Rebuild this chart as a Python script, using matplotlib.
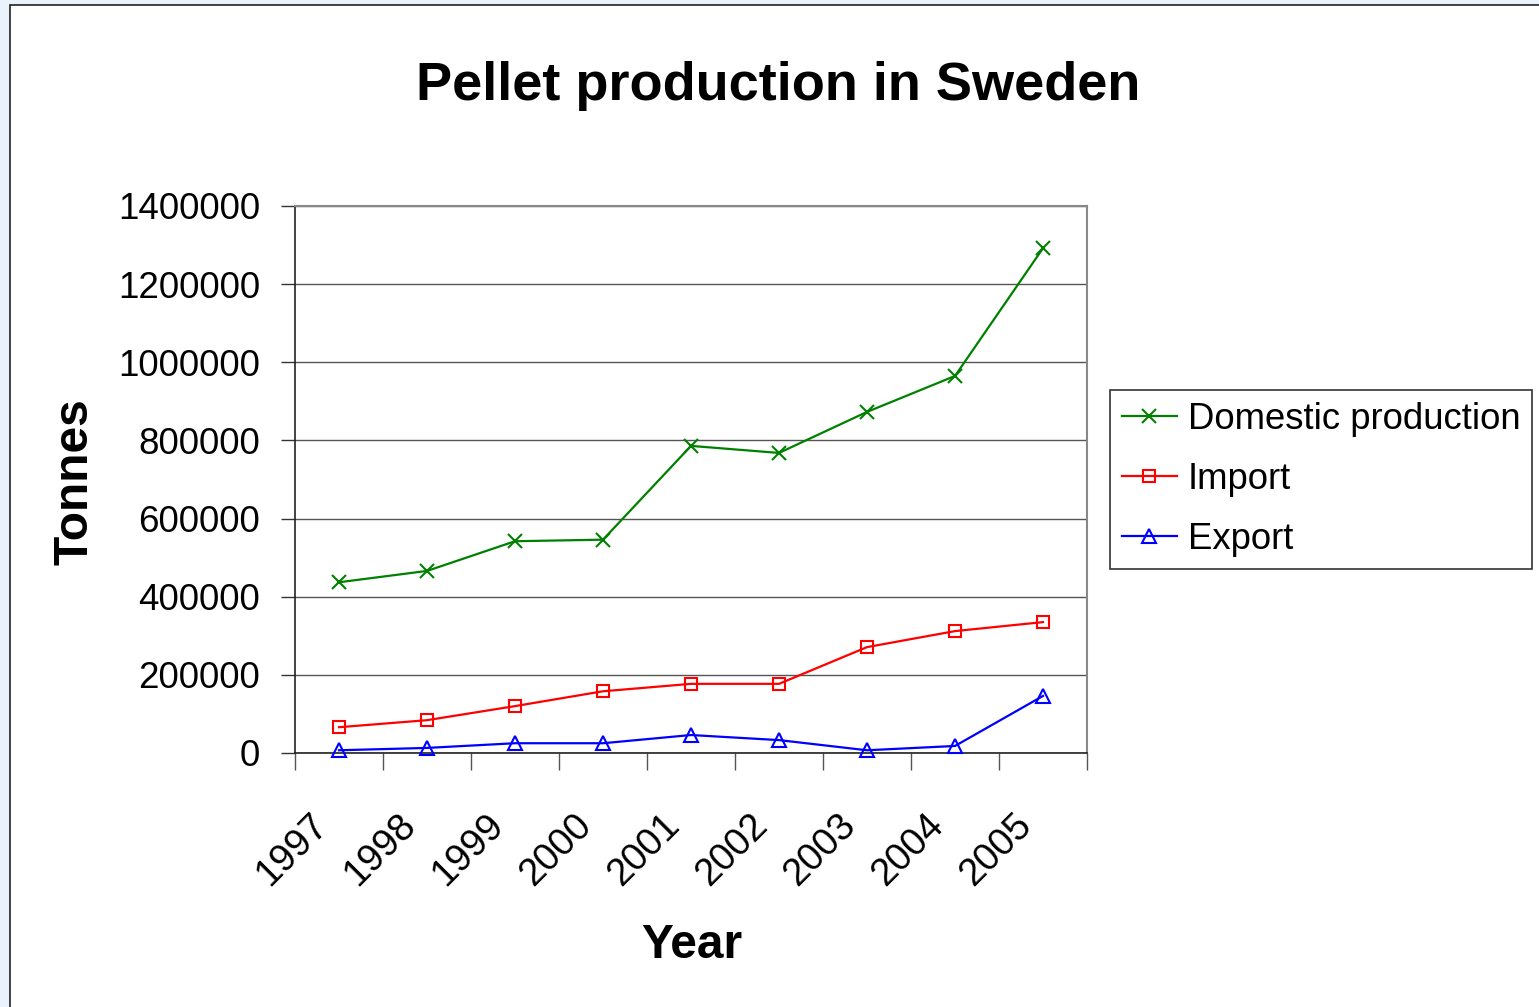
import matplotlib.pyplot as plt
from matplotlib.patches import Rectangle
from matplotlib.ticker import FixedLocator, FuncFormatter
import matplotlib.transforms as mtransforms

plt.rcParams['font.family'] = ['Liberation Sans', 'DejaVu Sans']

years = ["1997", "1998", "1999", "2000", "2001", "2002", "2003", "2004", "2005"]
domestic = [437000, 466000, 542000, 546000, 786000, 768000, 873000, 965000, 1292000]
imports = [66000, 84000, 120000, 158000, 177000, 177000, 271000, 312000, 335000]
exports = [7000, 13000, 25000, 25000, 46000, 33000, 7000, 18000, 146000]
y_ticks = [0, 200000, 400000, 600000, 800000, 1000000, 1200000, 1400000]

W, H = 1539, 1007
fig = plt.figure(figsize=(W / 100, H / 100), dpi=100)
fig.patch.set_facecolor('#eaf3fc')

# white chart area with dark border
fig.patches.append(Rectangle((10 / W, -0.1), 1.1, 1.1 - 5 / H,
                             transform=fig.transFigure, facecolor='white',
                             edgecolor='#222222', linewidth=1.2, zorder=-1))

ax = fig.add_axes([295 / W, 1 - 753 / H, (1087 - 295) / W, (753 - 206) / H])
ax.set_zorder(1)
ax.set_facecolor('white')

x = list(range(len(years)))
ax.plot(x, domestic, color='#008000', lw=1.6, marker='x', ms=10, mew=1.5,
        label='Domestic production', clip_on=False, zorder=3)
ax.plot(x, imports, color='#ff0000', lw=1.6, marker='s', ms=9, mew=1.5,
        mfc='none', label='Import', clip_on=False, zorder=3)
ax.plot(x, exports, color='#0000ff', lw=1.6, marker='^', ms=10, mew=1.5,
        mfc='none', label='Export', clip_on=False, zorder=3)

ax.set_xlim(-0.5, len(years) - 0.5)
ax.set_ylim(0, 1400000)

ax.yaxis.set_major_locator(FixedLocator(y_ticks))
ax.yaxis.set_major_formatter(FuncFormatter(lambda v, p: "%d" % v))
ax.tick_params(axis='y', direction='out', length=10, width=1, labelsize=26.5,
               pad=15, color='#333333')
ax.grid(axis='y', color='#555555', lw=1)
ax.set_axisbelow(True)

ax.set_xticks(x)
ax.set_xticklabels(years, rotation=45, ha='right', va='center',
                   rotation_mode='anchor', fontsize=27.5)
ax.set_xticks([i - 0.5 for i in range(len(years) + 1)], minor=True)
ax.tick_params(axis='x', which='major', length=0, pad=48)
ax.tick_params(axis='x', which='minor', direction='out', length=12, width=1,
               color='#555555')
shift = mtransforms.ScaledTranslation(-17 / 100, 0, fig.dpi_scale_trans)
for lbl in ax.get_xticklabels():
    lbl.set_transform(lbl.get_transform() + shift)

for side in ['top', 'right']:
    ax.spines[side].set_color('#888888')
    ax.spines[side].set_linewidth(1.5)
ax.spines['left'].set_color('#222222')
ax.spines['bottom'].set_color('#222222')
ax.spines['left'].set_linewidth(1.2)
ax.spines['bottom'].set_linewidth(1.2)

fig.text(778 / W, 1 - 100 / H, 'Pellet production in Sweden', fontsize=39,
         fontweight='bold', ha='center', va='baseline')
fig.text(75 / W, 1 - 482 / H, 'Tonnes', fontsize=34.5, fontweight='bold',
         rotation=90, ha='center', va='center')
fig.text(692 / W, 1 - 945 / H, 'Year', fontsize=34.5, fontweight='bold',
         ha='center', va='center')

leg = ax.legend(loc='upper left', bbox_to_anchor=(1110 / W, 1 - 390 / H),
                bbox_transform=fig.transFigure, fontsize=26.3, frameon=True,
                fancybox=False, edgecolor='#333333', framealpha=1,
                handlelength=1.5, handletextpad=0.3, labelspacing=0.68,
                borderpad=0.33, borderaxespad=0)
leg.get_frame().set_linewidth(1.2)

fig.savefig('out.png', dpi=100, facecolor=fig.get_facecolor())
